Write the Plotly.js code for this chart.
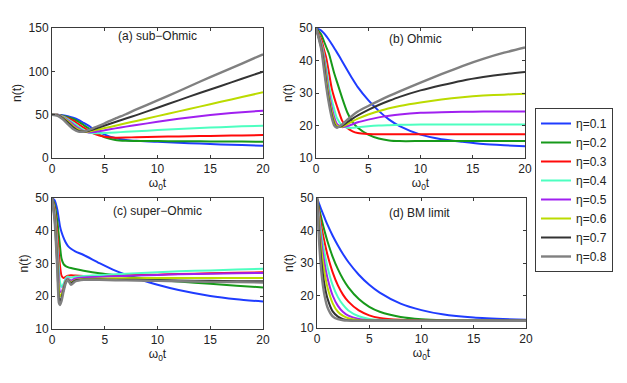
<!DOCTYPE html>
<html>
<head>
<meta charset="utf-8">
<script src="https://cdn.plot.ly/plotly-3.0.1.min.js"></script>
<style>
  html, body { margin: 0; padding: 0; background: #fff; }
  #chart { width: 627px; height: 383px; }
</style>
</head>
<body>
<div id="chart"></div>
<script>
// eta values and colours (legend)
const etaLabels = ['η=0.1', 'η=0.2', 'η=0.3', 'η=0.4', 'η=0.5', 'η=0.6', 'η=0.7', 'η=0.8'];
const colors = ['#1f3cff', '#17991a', '#ff0a0a', '#4dffc0', '#a020f0', '#bbdb00', '#333333', '#808080'];

// (a) sub-Ohmic
const tA = [0, 0.5, 1, 1.5, 2, 2.5, 3, 3.5, 4, 5, 6, 7, 8, 10, 12, 14, 16, 18, 20];
const subOhmic = [
  [50, 49.9, 49.3, 48.3, 46.5, 44, 40.5, 37, 33, 27, 23, 20.8, 19.8, 18.8, 17.5, 16.6, 15.7, 14.9, 14.2],
  [50, 49.9, 48.8, 47.2, 45, 42, 38, 34, 30, 24, 20.8, 19.8, 19.6, 19.5, 19.4, 19.2, 19.1, 18.9, 18.8],
  [50, 49.8, 48.3, 46, 43, 39, 35, 31.3, 28, 24.5, 23.5, 23.6, 24, 24.5, 24.9, 25.3, 25.7, 26.1, 26.5],
  [50, 49.7, 48, 45, 41, 36.5, 32.5, 29.5, 28.5, 28.8, 29.5, 30.2, 30.8, 32.2, 33.5, 34.6, 35.6, 36.5, 37.3],
  [50, 49.6, 47.5, 43.5, 39, 34.5, 31, 29.5, 30, 32, 34.2, 36.2, 38, 41.8, 45.2, 48.2, 50.8, 52.9, 54.6],
  [50, 49.5, 47, 42.5, 37, 33, 30.5, 30.5, 32, 34.5, 37.2, 40, 42.8, 48.3, 53.8, 59.3, 64.8, 70.3, 75.8],
  [50, 49.3, 46, 41, 35.5, 31.5, 30.5, 31.5, 33.5, 37.5, 41.5, 45.5, 49.5, 58, 66.5, 75, 83, 91.5, 99.6],
  [50, 49, 45, 39, 33.5, 30.5, 30.5, 32.5, 35, 40, 45.5, 50.5, 56, 66.5, 77, 88, 98.5, 109, 119.6]
];

// (b) Ohmic
const tB = [0, 0.5, 0.75, 1, 1.25, 1.5, 1.75, 2, 2.5, 3, 3.5, 4, 5, 6, 7, 8, 10, 12, 14, 16, 18, 20];
const ohmic = [
  [50, 49.2, 48.4, 47.4, 46.3, 45.1, 43.8, 42.5, 39.8, 37, 34.3, 31.8, 27.8, 24.5, 21.8, 19.8, 17.2, 15.8, 15, 14.3, 13.9, 13.6],
  [50, 48, 46, 44, 42, 39, 36, 33.5, 28.5, 24, 21, 19.3, 17.2, 16, 15.4, 15.2, 15.2, 15.2, 15.2, 15.2, 15.2, 15.2],
  [50, 46.5, 43.5, 40.5, 36, 31.5, 28.5, 26, 21.5, 19.2, 18.2, 17.7, 17.4, 17.3, 17.3, 17.3, 17.3, 17.3, 17.3, 17.3, 17.3, 17.3],
  [50, 45.5, 42, 37.5, 32, 28, 25, 22.3, 20, 19.3, 19.3, 19.5, 19.8, 20, 20.1, 20.2, 20.3, 20.3, 20.3, 20.3, 20.3, 20.3],
  [50, 45, 41, 35.5, 29.8, 25.8, 22.5, 20.5, 19.5, 19.8, 20.4, 21, 21.8, 22.5, 23, 23.4, 23.9, 24.1, 24.2, 24.3, 24.3, 24.3],
  [50, 44.5, 40, 34, 28.5, 24.5, 21.5, 19.9, 19.6, 20.4, 21.3, 22.1, 23.4, 24.4, 25.3, 26, 27.1, 28, 28.7, 29.2, 29.5, 29.8],
  [50, 44, 39, 32.5, 27.5, 23.3, 20.5, 19.5, 19.9, 21, 22.1, 23.1, 24.8, 26.3, 27.6, 28.8, 30.8, 32.4, 33.8, 34.9, 35.8, 36.5],
  [50, 43.5, 37.5, 31.5, 26.5, 22.5, 20, 19.3, 20.3, 21.8, 23.1, 24.3, 26, 27.6, 29.1, 30.5, 33.2, 35.8, 38.3, 40.5, 42.4, 44]
];

// (c) super-Ohmic
const tC = [0, 0.25, 0.5, 0.65, 0.75, 0.9, 1.1, 1.3, 1.5, 1.8, 2.2, 3, 4.5, 6, 8, 10, 12, 15, 17.5, 20];
const superOhmic = [
  [50, 49.3, 46.5, 43.5, 41.5, 39.6, 37.8, 36.4, 35.4, 34.5, 33.7, 32.6, 30.1, 27.8, 25.5, 23.5, 21.9, 20.1, 19.1, 18.4],
  [50, 48, 43, 38.5, 35.5, 31.5, 29.8, 29.2, 28.9, 28.6, 28.3, 27.8, 27, 26.4, 25.7, 25, 24.5, 23.8, 23.2, 22.7],
  [50, 47, 39, 33, 29.5, 26.3, 25.6, 25.9, 26.3, 26.4, 26.3, 26.2, 26.2, 26.3, 26.5, 26.6, 26.8, 27, 27.2, 27.3],
  [50, 46, 36, 28.5, 24.5, 22.8, 23.8, 25.5, 26, 25.7, 26, 26.2, 26.4, 26.7, 27, 27.3, 27.6, 27.9, 28.2, 28.4],
  [50, 45, 33.5, 25, 21.5, 21.3, 23, 24.8, 25.4, 24.8, 25.4, 25.7, 25.9, 26.1, 26.3, 26.5, 26.7, 26.9, 27, 27.1],
  [50, 44.5, 31.5, 22.5, 20, 20.5, 22.5, 24.5, 25.2, 24.3, 25, 25.3, 25.4, 25.5, 25.5, 25.6, 25.6, 25.6, 25.6, 25.6],
  [50, 43.5, 29.5, 19.5, 18.5, 19.5, 22, 24.3, 25, 24, 24.8, 25.1, 25.1, 25, 25, 24.9, 24.8, 24.7, 24.6, 24.6],
  [50, 43, 28, 18, 17.3, 18.5, 21.5, 24, 25, 23.5, 24.5, 25, 25, 24.9, 24.8, 24.7, 24.6, 24.4, 24.3, 24.2]
];

// (d) BM limit
const tD = [0, 0.25, 0.5, 0.75, 1, 1.5, 2, 2.5, 3, 4, 5, 6, 8, 10, 12, 15, 20];
const bmLimit = [
  [50, 47.8, 45.7, 43.7, 41.8, 38.4, 35.4, 32.7, 30.3, 26.4, 23.3, 20.9, 17.5, 15.5, 14.2, 13.2, 12.5],
  [50, 46.1, 42.6, 39.5, 36.7, 31.9, 28.1, 25.0, 22.5, 18.9, 16.5, 15.0, 13.4, 12.7, 12.4, 12.3, 12.2],
  [50, 44.6, 39.9, 36.0, 32.5, 27.1, 23.1, 20.2, 18.1, 15.4, 13.9, 13.1, 12.5, 12.3, 12.2, 12.2, 12.2],
  [50, 43.0, 37.3, 32.7, 28.8, 23.2, 19.5, 17.1, 15.4, 13.6, 12.8, 12.5, 12.3, 12.2, 12.2, 12.2, 12.2],
  [50, 41.3, 34.6, 29.4, 25.4, 20.0, 16.8, 14.9, 13.8, 12.8, 12.4, 12.3, 12.2, 12.2, 12.2, 12.2, 12.2],
  [50, 39.5, 31.9, 26.5, 22.5, 17.6, 15.0, 13.7, 13.0, 12.4, 12.3, 12.2, 12.2, 12.2, 12.2, 12.2, 12.2],
  [50, 36.9, 28.3, 22.7, 19.1, 15.1, 13.5, 12.7, 12.4, 12.2, 12.2, 12.2, 12.2, 12.2, 12.2, 12.2, 12.2],
  [50, 34.0, 24.8, 19.5, 16.4, 13.6, 12.7, 12.4, 12.3, 12.2, 12.2, 12.2, 12.2, 12.2, 12.2, 12.2, 12.2]
];

const panels = [
  { t: tA, data: subOhmic, xa: 'x', ya: 'y' },
  { t: tB, data: ohmic, xa: 'x2', ya: 'y2' },
  { t: tC, data: superOhmic, xa: 'x3', ya: 'y3' },
  { t: tD, data: bmLimit, xa: 'x4', ya: 'y4' }
];

let traces = [];
panels.forEach((p, pi) => {
  p.data.forEach((vals, i) => {
    traces.push({
      x: p.t,
      y: vals,
      xaxis: p.xa,
      yaxis: p.ya,
      type: 'scatter',
      mode: 'lines',
      name: etaLabels[i],
      showlegend: pi === 0,
      line: { color: colors[i], width: i === 7 ? 2.4 : 2, shape: 'spline', smoothing: 0.6 }
    });
  });
});

const W = 627, H = 383;
function px(a, b) { return [a / W, b / W]; }
function py(top, bottom) { return [1 - bottom / H, 1 - top / H]; }

function axisBase(extra) {
  return Object.assign({
    showline: true,
    mirror: 'ticks',
    linecolor: '#3a3a3a',
    linewidth: 1,
    ticks: 'inside',
    ticklen: 3,
    tickcolor: '#3a3a3a',
    showgrid: false,
    zeroline: false,
    tickfont: { family: 'Liberation Sans, Arial, sans-serif', size: 12, color: '#222' }
  }, extra);
}

const titleFont = { family: 'Liberation Sans, Arial, sans-serif', size: 12, color: '#222' };
const xTitle = { text: 'ω<sub>0</sub>t', font: titleFont, standoff: 2 };
const yTitle = { text: 'n(t)', font: titleFont, standoff: 4 };

const layout = {
  width: W,
  height: H,
  paper_bgcolor: '#fff',
  plot_bgcolor: '#fff',
  margin: { l: 0, r: 0, t: 0, b: 0 },
  showlegend: true,
  legend: {
    x: 535 / W, y: 1 - 108 / H, xanchor: 'left', yanchor: 'top',
    bordercolor: '#3a3a3a', borderwidth: 1, bgcolor: '#fff',
    font: { family: 'Liberation Sans, Arial, sans-serif', size: 12, color: '#222' },
    tracegroupgap: 0
  },
  xaxis: axisBase({ domain: px(52, 263), range: [0, 20], tickvals: [0, 5, 10, 15, 20], anchor: 'y', title: xTitle }),
  yaxis: axisBase({ domain: py(28, 158), range: [0, 150], tickvals: [0, 50, 100, 150], anchor: 'x', title: yTitle }),
  xaxis2: axisBase({ domain: px(316, 525), range: [0, 20], tickvals: [0, 5, 10, 15, 20], anchor: 'y2', title: xTitle }),
  yaxis2: axisBase({ domain: py(28, 158), range: [10, 50], tickvals: [10, 20, 30, 40, 50], anchor: 'x2', title: yTitle }),
  xaxis3: axisBase({ domain: px(52, 263), range: [0, 20], tickvals: [0, 5, 10, 15, 20], anchor: 'y3', title: xTitle }),
  yaxis3: axisBase({ domain: py(198, 329), range: [10, 50], tickvals: [10, 20, 30, 40, 50], anchor: 'x3', title: yTitle }),
  xaxis4: axisBase({ domain: px(317, 526), range: [0, 20], tickvals: [0, 5, 10, 15, 20], anchor: 'y4', title: xTitle }),
  yaxis4: axisBase({ domain: py(198, 328), range: [10, 50], tickvals: [10, 20, 30, 40, 50], anchor: 'x4', title: yTitle }),
  annotations: [
    { text: '(a) sub−Ohmic', xref: 'x', yref: 'y', x: 10, y: 141, showarrow: false, font: titleFont },
    { text: '(b) Ohmic', xref: 'x2', yref: 'y2', x: 9.5, y: 46.5, showarrow: false, font: titleFont },
    { text: '(c) super−Ohmic', xref: 'x3', yref: 'y3', x: 10, y: 46, showarrow: false, font: titleFont },
    { text: '(d) BM limit', xref: 'x4', yref: 'y4', x: 9.8, y: 45.5, showarrow: false, font: titleFont }
  ]
};

Plotly.newPlot('chart', traces, layout, { displayModeBar: false, staticPlot: true });
</script>
</body>
</html>
